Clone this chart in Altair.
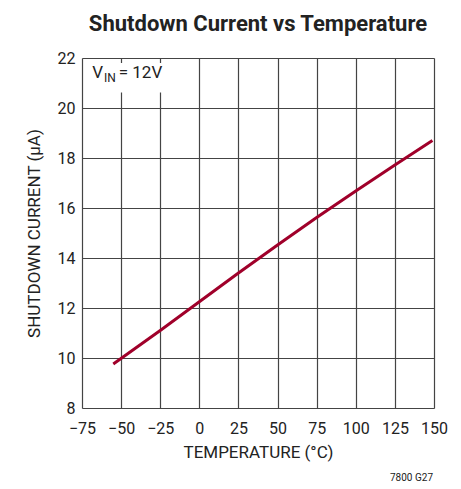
import altair as alt
import pandas as pd

temps = [-55, -25, 0, 25, 50, 75, 100, 125, 149]
current = [9.76, 11.1, 12.25, 13.4, 14.52, 15.62, 16.68, 17.72, 18.7]

x_ticks = [-75, -50, -25, 0, 25, 50, 75, 100, 125, 150]
y_ticks = [8, 10, 12, 14, 16, 18, 20, 22]

FONT = "Roboto, sans-serif"

df = pd.DataFrame({"t": temps, "i": current})

xs = alt.Scale(domain=[-75, 150], nice=False)
ys = alt.Scale(domain=[8, 22], nice=False)

common = dict(ticks=False, domain=False, labelFontSize=16, titleFontWeight="normal",
              labelColor="#222", titleColor="#222", labelFont=FONT, titleFont=FONT,
              gridColor="#444", gridOpacity=1, gridWidth=1.2, labelOverlap=False, grid=True,
              labelFlush=False)

x_axis = alt.Axis(values=x_ticks, title="TEMPERATURE (°C)", titleFontSize=17,
                  labelPadding=12, titlePadding=8, **common)
y_axis = alt.Axis(values=y_ticks, title="SHUTDOWN CURRENT (µA)", titleFontSize=17,
                  labelPadding=7, titlePadding=14, **common)

line = alt.Chart(df).mark_line(color="#A0002A", strokeWidth=3).encode(
    x=alt.X("t:Q", scale=xs, axis=x_axis),
    y=alt.Y("i:Q", scale=ys, axis=y_axis),
)

box_df = pd.DataFrame({"t": [-71.5], "x2": [-22.5], "i": [20.62], "y2": [21.8]})
box = alt.Chart(box_df).mark_rect(color="white").encode(
    x=alt.X("t:Q", scale=xs, axis=x_axis), x2="x2:Q",
    y=alt.Y("i:Q", scale=ys, axis=y_axis), y2="y2:Q",
)

lab_x = [-68.5, -61.0, -51.5]
lab_y = [21.4, 21.22, 21.4]
lab_txt = ["V", "IN", "= 12V"]
lab_df = pd.DataFrame({"t": lab_x, "i": lab_y, "txt": lab_txt})

def lab(i, size):
    return alt.Chart(lab_df.iloc[[i]]).mark_text(
        align="left", baseline="middle", font=FONT, fontSize=size, color="#222").encode(
        x=alt.X("t:Q", scale=xs, axis=x_axis), y=alt.Y("i:Q", scale=ys, axis=y_axis), text="txt:N")

foot = alt.Chart(pd.DataFrame({"txt": ["7800 G27"]})).mark_text(
    align="right", baseline="middle", font=FONT, fontSize=10, color="#222").encode(
    x=alt.value(351), y=alt.value(420), text="txt:N")

chart = alt.layer(line, box, lab(0, 17), lab(1, 12), lab(2, 17), foot).properties(
    width=352, height=350,
    padding={"left": 74, "top": 50, "right": 19, "bottom": 80},
    autosize=alt.AutoSizeParams(type="none"),
    title=alt.Title("Shutdown Current vs Temperature", fontSize=22, fontWeight="bold",
                    font=FONT, color="#222", offset=14),
).configure_view(stroke="#111", strokeWidth=1.8).configure(background="white")

chart.save("out.html", embed_options={"renderer": "svg", "actions": False})
